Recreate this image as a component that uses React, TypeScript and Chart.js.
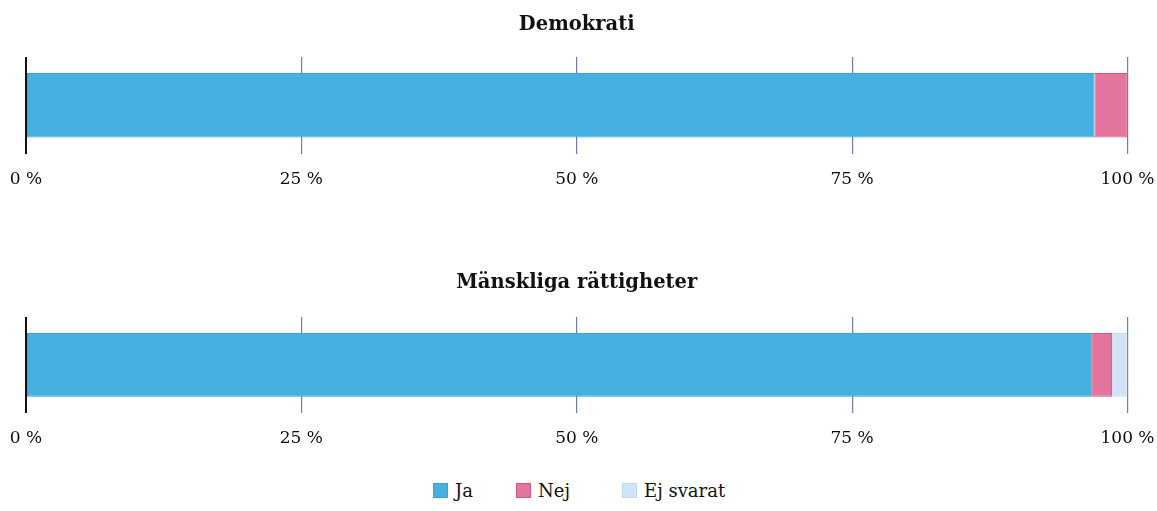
import React, { useEffect, useRef } from "react";
import { Chart, registerables } from "chart.js";

Chart.register(...registerables);

const categories = ["Demokrati", "Mänskliga rättigheter"];
const seriesNames = ["Ja", "Nej", "Ej svarat"];
const jaValues = [97.0, 96.7];
const nejValues = [3.0, 1.9];
const ejSvaratValues = [0.0, 1.4];
const tickValues = [0, 25, 50, 75, 100];
const tickLabels = ["0 %", "25 %", "50 %", "75 %", "100 %"];

const seriesColors = ["#44b1e1", "#e3749e", "#d2e4f3"];
const seriesBorders = ["#3aa3d6", "#d9557f", "#c2daee"];
const legendLefts = [433, 516, 622];

const FONT = "'DejaVu Serif', 'Liberation Serif', serif";

function buildConfig(index: number, titleTop: number, titleBottom: number): any {
  const values = [jaValues, nejValues, ejSvaratValues];
  return {
    type: "bar",
    data: {
      labels: [categories[index]],
      datasets: seriesNames.map((name, s) => ({
        label: name,
        data: [values[s][index]],
        backgroundColor: seriesColors[s],
        borderColor: seriesBorders[s],
        borderWidth: 1,
        borderSkipped: false,
        barPercentage: 0.667,
        categoryPercentage: 1,
      })),
    },
    options: {
      indexAxis: "y",
      animation: false,
      responsive: true,
      maintainAspectRatio: false,
      layout: { padding: { left: 26, right: 29.5, top: 0, bottom: 4 } },
      scales: {
        x: {
          type: "linear",
          stacked: true,
          min: 0,
          max: 100,
          afterFit: (scale: any) => {
            scale.paddingLeft = 0;
            scale.paddingRight = 0;
          },
          ticks: {
            stepSize: 25,
            padding: 16,
            color: "#0d0d0d",
            font: { family: FONT, size: 17 },
            callback: (v: number) => {
              const i = tickValues.indexOf(v);
              return i >= 0 ? tickLabels[i] : "";
            },
          },
          grid: {
            drawTicks: false,
            color: (ctx: any) => (ctx.tick && ctx.tick.value === 0 ? "#111111" : "#6f7dab"),
            lineWidth: (ctx: any) => (ctx.tick && ctx.tick.value === 0 ? 2 : 1.2),
          },
          border: { display: false },
        },
        y: {
          stacked: true,
          display: false,
        },
      },
      plugins: {
        title: {
          display: true,
          text: categories[index],
          color: "#111111",
          font: { family: FONT, size: 19.5, weight: "bold" },
          padding: { top: titleTop, bottom: titleBottom },
        },
        legend: { display: false },
        tooltip: { enabled: false },
      },
    },
  };
}

function ChartBox(props: { index: number; top: number; height: number; titleTop: number; titleBottom: number }) {
  const ref = useRef<HTMLCanvasElement | null>(null);
  useEffect(() => {
    if (!ref.current) return;
    const chart = new Chart(ref.current, buildConfig(props.index, props.titleTop, props.titleBottom));
    return () => chart.destroy();
  }, []);
  return (
    <div style={{ position: "absolute", left: 0, top: props.top, width: 1157, height: props.height }}>
      <canvas ref={ref} />
    </div>
  );
}

function Legend() {
  return (
    <div style={{ position: "absolute", left: 0, top: 479, width: 1157, height: 22 }}>
      {seriesNames.map((name, s) => (
        <div
          key={name}
          style={{
            position: "absolute",
            left: legendLefts[s],
            top: 0,
            height: 22,
            display: "flex",
            alignItems: "center",
            fontFamily: FONT,
            fontSize: 18,
            color: "#111111",
            whiteSpace: "nowrap",
          }}
        >
          <span
            style={{
              display: "inline-block",
              width: 15,
              height: 15,
              background: seriesColors[s],
              border: "1px solid " + seriesBorders[s],
              boxSizing: "border-box",
              marginRight: 7,
            }}
          />
          <span>{name}</span>
        </div>
      ))}
    </div>
  );
}

export default function App() {
  return (
    <div style={{ position: "absolute", left: 0, top: 0, width: 1157, height: 511, background: "#ffffff", overflow: "hidden" }}>
      <ChartBox index={0} top={0} height={210} titleTop={13.3} titleBottom={20.3} />
      <ChartBox index={1} top={230} height={239} titleTop={41.3} titleBottom={22.3} />
      <Legend />
    </div>
  );
}
